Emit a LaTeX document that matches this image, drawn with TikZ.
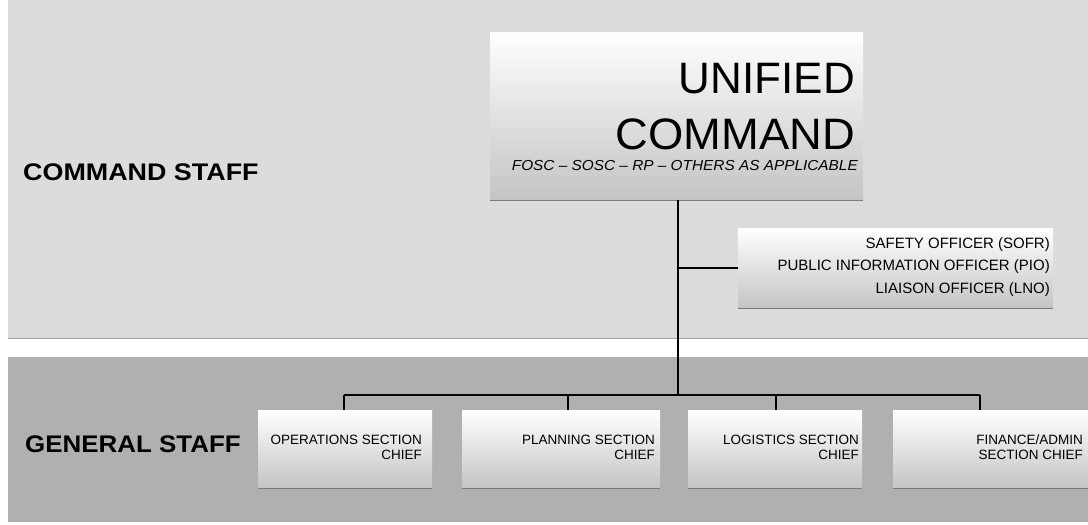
\documentclass[tikz,border=0pt]{standalone}
\usepackage{fontspec}
\setmainfont{Liberation Sans}
\usepackage{graphicx}
\definecolor{topband}{HTML}{DCDCDC}
\definecolor{lowband}{HTML}{B0B0B0}
\definecolor{boxbot}{HTML}{C4C4C4}
\definecolor{edgegray}{HTML}{7A7A7A}
\begin{document}
\begin{tikzpicture}[x=1pt,y=-1pt,
  band/.style={fill=#1,draw=none},
  orgbox/.style={draw=none,top color=white,bottom color=boxbot,inner sep=0pt,
    minimum width=#1,anchor=north west},
  conn/.style={draw=black,line width=1.1pt},
  edge/.style={draw=edgegray,line width=1.6pt},
  staff/.style={font=\fontsize{24}{24}\selectfont\bfseries,anchor=base west,inner sep=0pt},
  big/.style={font=\fontsize{44}{44}\selectfont,anchor=base east,inner sep=0pt},
  sub/.style={font=\fontsize{14.5}{14.5}\selectfont\itshape,anchor=base east,inner sep=0pt},
  off/.style={font=\fontsize{15}{15}\selectfont,anchor=base east,inner sep=0pt},
  sec/.style={font=\fontsize{13.5}{14.5}\selectfont,align=right,anchor=north east,inner sep=0pt}
]
\useasboundingbox (0,0) rectangle (1088,525);
\fill[white] (0,0) rectangle (1088,525);
% bands
\node[band=topband,minimum width=1080pt,minimum height=338pt,inner sep=0pt,anchor=north west] (topb) at (8,0) {};
\node[band=lowband,minimum width=1080pt,minimum height=165pt,inner sep=0pt,anchor=north west] (lowb) at (8,357) {};
\draw[edgegray!70,line width=1pt] (topb.south west) -- (topb.south east);
% labels
\node[staff] (cmdlab) at (23,180) {\scalebox{1.12}[1]{COMMAND STAFF}};
\node[staff] (genlab) at (25,452) {\scalebox{1.08}[1]{GENERAL STAFF}};
% unified command
\node[orgbox=373pt,minimum height=168pt] (uc) at (490,32) {};
\draw[edge] (uc.south west) -- (uc.south east);
\node[big] (uni) at (855,93) {UNIFIED};
\node[big] (com) at (855,149) {\scalebox{1.03}[1]{COMMAND}};
\node[sub] (fosc) at (858,170) {\scalebox{1.06}[1]{FOSC -- SOSC -- RP -- OTHERS AS APPLICABLE}};
% command staff box
\node[orgbox=315pt,minimum height=80pt] (cs) at (738,228) {};
\draw[edge] (cs.south west) -- (cs.south east);
\node[off] (sofr) at (1050,248) {SAFETY OFFICER (SOFR)};
\node[off] (pio) at (1050,270) {PUBLIC INFORMATION OFFICER (PIO)};
\node[off] (lno) at (1050,293) {LIAISON OFFICER (LNO)};
% general staff boxes
\node[orgbox=174pt,minimum height=78pt] (ops) at (258,410) {};
\node[orgbox=198pt,minimum height=78pt] (plan) at (462,410) {};
\node[orgbox=174pt,minimum height=78pt] (log) at (688,410) {};
\node[orgbox=195pt,minimum height=78pt] (fin) at (893,410) {};
\foreach \b in {ops,plan,log,fin}{\draw[edge] (\b.south west) -- (\b.south east);}
\node[sec] (opst) at (422,435) {OPERATIONS SECTION\\CHIEF};
\node[sec] (plant) at (655,435) {PLANNING SECTION\\CHIEF};
\node[sec] (logt) at (859,435) {LOGISTICS SECTION\\CHIEF};
\node[sec] (fint) at (1083,435) {FINANCE/ADMIN\\SECTION CHIEF};
% connectors
\coordinate (trunk) at (678,200);
\coordinate (bus) at (678,395);
\coordinate (cstap) at (678,268);
\coordinate (d1) at (344,395);
\coordinate (d2) at (568,395);
\coordinate (d3) at (776,395);
\coordinate (d4) at (980,395);
\draw[conn] (trunk) -- (bus);
\draw[conn] (cstap) -- (cstap -| cs.west);
\draw[conn] (d1) -- (d4);
\draw[conn] (d1) -- (d1 |- ops.north);
\draw[conn] (d2) -- (d2 |- plan.north);
\draw[conn] (d3) -- (d3 |- log.north);
\draw[conn] (d4) -- (d4 |- fin.north);
\end{tikzpicture}
\end{document}
